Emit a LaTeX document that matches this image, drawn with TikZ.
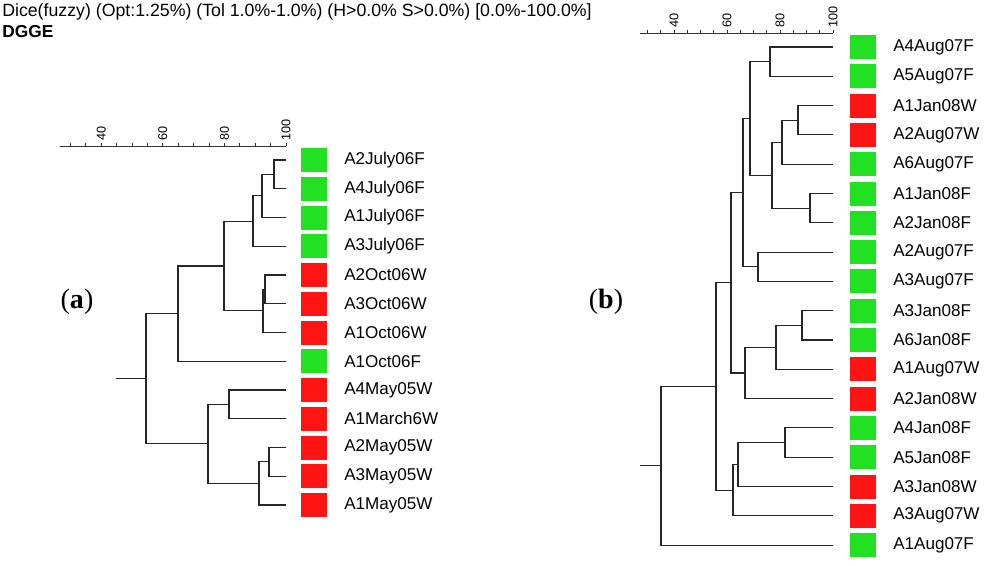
\documentclass[tikz,border=0pt]{standalone}
\usepackage{fontspec}
\setmainfont{Liberation Sans}
\newfontfamily\serifF{Liberation Serif}
\usetikzlibrary{calc}
\definecolor{gr}{HTML}{22E022}
\definecolor{rd}{HTML}{FF1414}
\newcommand{\jn}[4]{% name, c1, c2, x
  \coordinate (h#1) at (#4,0);
  \coordinate (m#1) at ($(#2)!.5!(#3)$);
  \coordinate (#1) at (h#1 |- m#1);
  \draw[br] (#2) -- (#2 -| #1) -- (#3 -| #1) -- (#3);}
\begin{document}
\begin{tikzpicture}[x=0.75pt,y=-0.75pt,
  br/.style={line width=0.8pt,black!85},
  sq/.style={minimum width=19.5pt,minimum height=18pt,inner sep=0pt,draw=none},
  lab/.style={anchor=west,font=\fontsize{12.8}{13}\selectfont,inner sep=0pt},
  ax/.style={line width=0.6pt,black!80},
  axl/.style={rotate=90,anchor=west,font=\fontsize{9.5}{10}\selectfont,inner sep=1pt}]
\useasboundingbox (0,0) rectangle (1000,565);
\fill[white] (0,0) rectangle (1000,565);
\node[anchor=west,inner sep=0pt,font=\fontsize{13.3}{14}\selectfont] (hdr) at (2,12) {Dice(fuzzy) (Opt:1.25\%) (Tol 1.0\%-1.0\%) (H>0.0\% S>0.0\%) [0.0\%-100.0\%]};
\node[anchor=west,inner sep=0pt,font=\fontsize{13}{14}\selectfont\bfseries] (dg) at (2,32) {DGGE};
\node[font=\serifF\fontsize{21}{22}\selectfont] (la) at (77,302) {(\textbf{a})};
\node[font=\serifF\fontsize{21}{22}\selectfont] (lb) at (606,302) {(\textbf{b})};
% left axis
\draw[ax] (60,146) -- (286,146);
\foreach \s in {30,35,...,100} \draw[ax] ({286-(100-\s)*3.08},146) -- ++(0,-3);
\foreach \s in {40,60,80,100} \node[axl] at ({286-(100-\s)*3.08},142) {\s};
% right axis
\draw[ax] (640,33) -- (833,33);
\foreach \s in {30,35,...,100} \draw[ax] ({833-(100-\s)*2.65},33) -- ++(0,-3);
\foreach \s in {40,60,80,100} \node[axl] at ({833-(100-\s)*2.65},29) {\s};
% left leaves
\foreach \n/\t/\c [count=\i from 0] in {L0/A2July06F/gr,L1/A4July06F/gr,L2/A1July06F/gr,L3/A3July06F/gr,L4/A2Oct06W/rd,L5/A3Oct06W/rd,L6/A1Oct06W/rd,L7/A1Oct06F/gr,L8/A4May05W/rd,L9/A1March6W/rd,L10/A2May05W/rd,L11/A3May05W/rd,L12/A1May05W/rd}{
  \coordinate (\n) at (286,{160+28.75*\i});
  \node[sq,fill=\c] (s\n) at (314,{160+28.75*\i}) {};
  \node[lab] (t\n) at (344,{160+28.75*\i}) {\t};}
\jn{a1}{L0}{L1}{274}
\jn{a2}{a1}{L2}{262}
\jn{a3}{a2}{L3}{253}
\jn{a4}{L4}{L5}{265}
\jn{a5}{a4}{L6}{263}
\jn{a6}{a3}{a5}{224}
\jn{a7}{a6}{L7}{178}
\jn{a8}{L8}{L9}{229}
\jn{a9}{L10}{L11}{269}
\jn{a10}{a9}{L12}{259}
\jn{a11}{a8}{a10}{208}
\jn{a12}{a7}{a11}{146}
\coordinate (ra) at (116,0);
\draw[br] (a12) -- (a12 -| ra);
% right leaves
\foreach \n/\t/\c [count=\i from 0] in {R0/A4Aug07F/gr,R1/A5Aug07F/gr,R2/A1Jan08W/rd,R3/A2Aug07W/rd,R4/A6Aug07F/gr,R5/A1Jan08F/gr,R6/A2Jan08F/gr,R7/A2Aug07F/gr,R8/A3Aug07F/gr,R9/A3Jan08F/gr,R10/A6Jan08F/gr,R11/A1Aug07W/rd,R12/A2Jan08W/rd,R13/A4Jan08F/gr,R14/A5Jan08F/gr,R15/A3Jan08W/rd,R16/A3Aug07W/rd,R17/A1Aug07F/gr}{
  \coordinate (\n) at (833,{47+29.3*\i});
  \node[sq,fill=\c] (s\n) at (863,{47+29.3*\i}) {};
  \node[lab] (t\n) at (893,{47+29.3*\i}) {\t};}
\jn{b1}{R0}{R1}{770}
\jn{b2}{R2}{R3}{798}
\jn{b3}{b2}{R4}{782}
\jn{b4}{R5}{R6}{810}
\jn{b5}{b3}{b4}{772}
\jn{b6}{b1}{b5}{750}
\jn{b7}{R7}{R8}{758}
\jn{b8}{b6}{b7}{743}
\jn{b9}{R9}{R10}{802}
\jn{b10}{b9}{R11}{776}
\jn{b11}{b10}{R12}{745}
\jn{b12}{b8}{b11}{731}
\jn{b13}{R13}{R14}{785}
\jn{b14}{b13}{R15}{738}
\jn{b15}{b14}{R16}{733}
\jn{b16}{b12}{b15}{716}
\jn{b17}{b16}{R17}{661}
\coordinate (rb) at (640,0);
\draw[br] (b17) -- (b17 -| rb);
\end{tikzpicture}
\end{document}
